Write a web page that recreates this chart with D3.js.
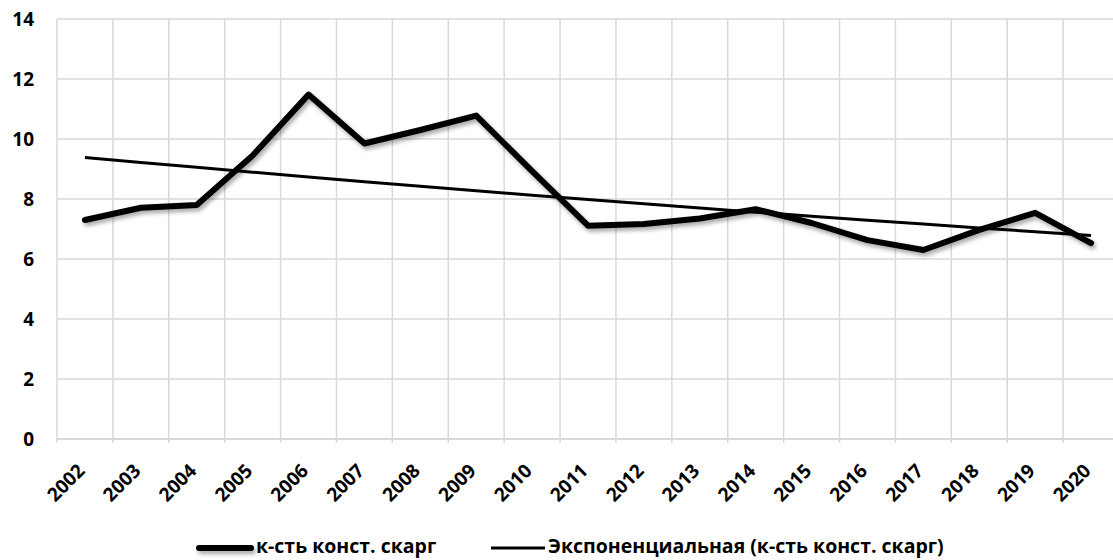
<!DOCTYPE html>
<html>
<head>
<meta charset="utf-8">
<script src="https://cdn.jsdelivr.net/npm/d3@7"></script>
<style>
  body { margin: 0; background: #fff; }
  svg { display: block; font-family: 'Open Sans', sans-serif; font-weight: 700; }
</style>
</head>
<body>
<svg width="1113" height="560"></svg>
<script>
// chart data
const years = ['2002', '2003', '2004', '2005', '2006', '2007', '2008', '2009', '2010', '2011',
  '2012', '2013', '2014', '2015', '2016', '2017', '2018', '2019', '2020']
const values = [7.3, 7.71, 7.8, 9.45, 11.48, 9.85, 10.3, 10.78, 8.93, 7.11,
  7.17, 7.35, 7.66, 7.2, 6.63, 6.3, 6.97, 7.54, 6.53]
const yTicks = [0, 2, 4, 6, 8, 10, 12, 14]
const seriesName = 'к-сть конст. скарг'
const trendName = 'Экспоненциальная (к-сть конст. скарг)'

let svg = d3.select('svg')

let x = d3.scaleBand().domain(years).range([57, 1119]).padding(0)
let y = d3.scaleLinear().domain([0, 14]).range([439, 19])
let cx = d => x(d) + x.bandwidth() / 2

// shadow for the main line (user space so flat lines keep it too)
let defs = svg.append('defs')
defs.append('filter')
    .attr('id', 'shadow')
    .attr('filterUnits', 'userSpaceOnUse')
    .attr('x', 0).attr('y', 0)
    .attr('width', 1113).attr('height', 560)
  .append('feDropShadow')
    .attr('dx', 2).attr('dy', 3)
    .attr('stdDeviation', 2)
    .attr('flood-color', '#000')
    .attr('flood-opacity', 0.35)

// grid
let grid = svg.append('g').attr('stroke', '#d9d9d9').attr('stroke-width', 1.5)
grid.selectAll('line.h')
  .data(yTicks.filter(t => t > 0))
  .enter().append('line')
    .attr('class', 'h')
    .attr('x1', 57).attr('x2', 1119)
    .attr('y1', d => y(d)).attr('y2', d => y(d))
grid.selectAll('line.v')
  .data(years.map(d => x(d)).concat([x.range()[1]]))
  .enter().append('line')
    .attr('class', 'v')
    .attr('x1', d => d).attr('x2', d => d)
    .attr('y1', y(14)).attr('y2', y(0) + 4)

// x axis line
svg.append('line')
    .attr('x1', 57).attr('x2', 1119)
    .attr('y1', y(0)).attr('y2', y(0))
    .attr('stroke', '#d9d9d9').attr('stroke-width', 2)

// y labels
svg.append('g').selectAll('text')
  .data(yTicks)
  .enter().append('text')
    .attr('x', 34)
    .attr('y', d => y(d))
    .attr('dy', '0.35em')
    .attr('text-anchor', 'end')
    .attr('font-size', 19)
    .attr('fill', '#000')
    .text(d => d)

// x labels, rotated
svg.append('g').selectAll('text')
  .data(years)
  .enter().append('text')
    .attr('text-anchor', 'end')
    .attr('font-size', 19)
    .attr('fill', '#000')
    .attr('transform', d => 'translate(' + (cx(d) + 1) + ',' + 472 + ') rotate(-45)')
    .text(d => d)

// exponential trend, fitted like the spreadsheet does (least squares on ln y)
let n = values.length
let xs = d3.range(1, n + 1)
let ln = values.map(v => Math.log(v))
let mx = d3.mean(xs), ml = d3.mean(ln)
let b = d3.sum(xs, (xi, i) => (xi - mx) * (ln[i] - ml)) / d3.sum(xs, xi => (xi - mx) * (xi - mx))
let a = Math.exp(ml - b * mx)
let trend = years.map((d, i) => ({ year: d, v: a * Math.exp(b * (i + 1)) }))

let line = d3.line().x(d => cx(d.year)).y(d => y(d.v))

svg.append('path')
    .datum(years.map((d, i) => ({ year: d, v: values[i] })))
    .attr('d', line)
    .attr('fill', 'none')
    .attr('stroke', '#000')
    .attr('stroke-width', 6)
    .attr('stroke-linejoin', 'round')
    .attr('stroke-linecap', 'round')
    .attr('filter', 'url(#shadow)')

svg.append('path')
    .datum(trend)
    .attr('d', line)
    .attr('fill', 'none')
    .attr('stroke', '#000')
    .attr('stroke-width', 3)

// legend
let legend = svg.append('g')
legend.append('line')
    .attr('x1', 199).attr('x2', 251)
    .attr('y1', 548).attr('y2', 548)
    .attr('stroke', '#000').attr('stroke-width', 6)
    .attr('stroke-linecap', 'round')
    .attr('filter', 'url(#shadow)')
legend.append('text')
    .attr('x', 256).attr('y', 546).attr('dy', '0.35em')
    .attr('font-size', 19.5)
    .text(seriesName)
legend.append('line')
    .attr('x1', 491).attr('x2', 545)
    .attr('y1', 548).attr('y2', 548)
    .attr('stroke', '#000').attr('stroke-width', 3)
legend.append('text')
    .attr('x', 548).attr('y', 546).attr('dy', '0.35em')
    .attr('font-size', 19.5)
    .text(trendName)
</script>
</body>
</html>
